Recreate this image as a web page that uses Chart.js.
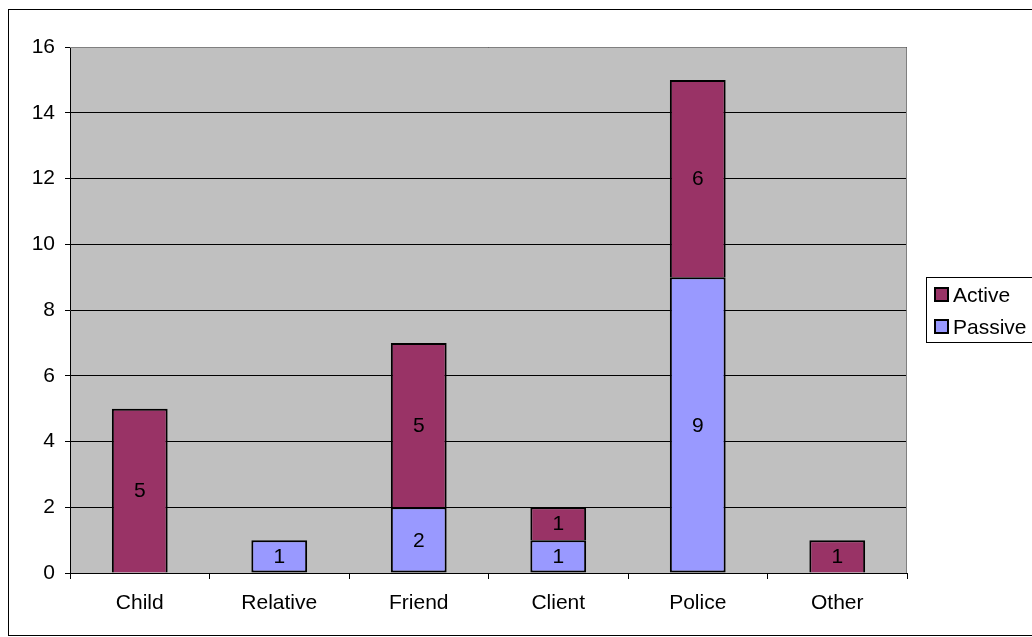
<!DOCTYPE html>
<html>
<head>
<meta charset="utf-8">
<script src="https://cdn.jsdelivr.net/npm/chart.js@4.4.1/dist/chart.umd.min.js"></script>
<style>
  html, body { margin: 0; padding: 0; background: #fff; }
  #wrap { width: 1032px; height: 637px; }
</style>
</head>
<body>
<div id="wrap"><canvas id="chart" width="1032" height="637"></canvas></div>
<script>
// chart data
const categories = ["Child", "Relative", "Friend", "Client", "Police", "Other"];
const passive = [0, 1, 2, 1, 9, 0];
const active = [5, 0, 5, 1, 6, 1];

const FONT = "'Liberation Sans', Arial, sans-serif";

// gray plot background + outer frame
const backdrop = {
  id: "backdrop",
  beforeDraw(chart) {
    const { ctx, chartArea: a } = chart;
    ctx.save();
    ctx.fillStyle = "#fff";
    ctx.fillRect(0, 0, chart.width, chart.height);
    ctx.strokeStyle = "#000";
    ctx.lineWidth = 1;
    ctx.strokeRect(8.5, 9.5, 1100, 626);
    ctx.fillStyle = "#c0c0c0";
    ctx.fillRect(a.left, a.top, a.right - a.left, a.bottom - a.top);
    ctx.restore();
  },
  afterDatasetsDraw(chart) {
    const { ctx, chartArea: a } = chart;
    ctx.save();
    ctx.strokeStyle = "#808080";
    ctx.lineWidth = 1;
    ctx.beginPath();
    ctx.moveTo(a.left, a.top + 0.5);
    ctx.lineTo(a.right - 0.5, a.top + 0.5);
    ctx.lineTo(a.right - 0.5, a.bottom);
    ctx.stroke();
    ctx.restore();
  }
};

// value labels inside the segments
const valueLabels = {
  id: "valueLabels",
  afterDatasetsDraw(chart) {
    const { ctx } = chart;
    ctx.save();
    ctx.font = "21px " + FONT;
    ctx.fillStyle = "#000";
    ctx.textAlign = "center";
    ctx.textBaseline = "middle";
    chart.data.datasets.forEach((ds, i) => {
      chart.getDatasetMeta(i).data.forEach((bar, j) => {
        const v = ds.data[j];
        if (!v) return;
        ctx.fillText(String(v), bar.x, (bar.y + bar.base) / 2 + 1);
      });
    });
    ctx.restore();
  }
};

// legend box on the right, Excel style
const sideLegend = {
  id: "sideLegend",
  afterDraw(chart) {
    const { ctx } = chart;
    const items = chart.data.datasets.slice().reverse();
    ctx.save();
    ctx.strokeStyle = "#000";
    ctx.lineWidth = 1;
    ctx.strokeRect(926.5, 277.5, 200, 65);
    ctx.font = "21px " + FONT;
    ctx.textBaseline = "middle";
    items.forEach((ds, i) => {
      const y = 295 + i * 32;
      ctx.fillStyle = ds.backgroundColor;
      ctx.fillRect(935, y - 7, 13, 13);
      ctx.lineWidth = 2;
      ctx.strokeRect(935, y - 7, 13, 13);
      ctx.fillStyle = "#000";
      ctx.fillText(ds.label, 953, y + 1);
    });
    ctx.restore();
  }
};

new Chart(document.getElementById("chart"), {
  type: "bar",
  data: {
    labels: categories,
    datasets: [
      {
        label: "Passive",
        data: passive,
        backgroundColor: "#9999ff",
        borderColor: "#000",
        borderWidth: 2,
        borderSkipped: false
      },
      {
        label: "Active",
        data: active,
        backgroundColor: "#993366",
        borderColor: "#000",
        borderWidth: 2,
        borderSkipped: "bottom"
      }
    ]
  },
  options: {
    responsive: false,
    animation: false,
    layout: { padding: { left: 0, top: 47, right: 125, bottom: 0 } },
    datasets: { bar: { barPercentage: 0.4, categoryPercentage: 1 } },
    plugins: {
      legend: { display: false },
      tooltip: { enabled: false }
    },
    scales: {
      x: {
        stacked: true,
        afterFit: (s) => { s.height = 64; },
        grid: {
          drawOnChartArea: false,
          drawTicks: true,
          tickLength: 6,
          color: "#000",
          offset: true
        },
        border: { color: "#000", width: 1 },
        ticks: { color: "#000", font: { family: FONT, size: 21 }, padding: 12 }
      },
      y: {
        stacked: true,
        min: 0,
        max: 16,
        afterFit: (s) => { s.width = 70; },
        grid: { color: "#000", tickLength: 5 },
        border: { color: "#000", width: 1 },
        ticks: { stepSize: 2, color: "#000", font: { family: FONT, size: 21 }, padding: 10 }
      }
    }
  },
  plugins: [backdrop, valueLabels, sideLegend]
});
</script>
</body>
</html>
